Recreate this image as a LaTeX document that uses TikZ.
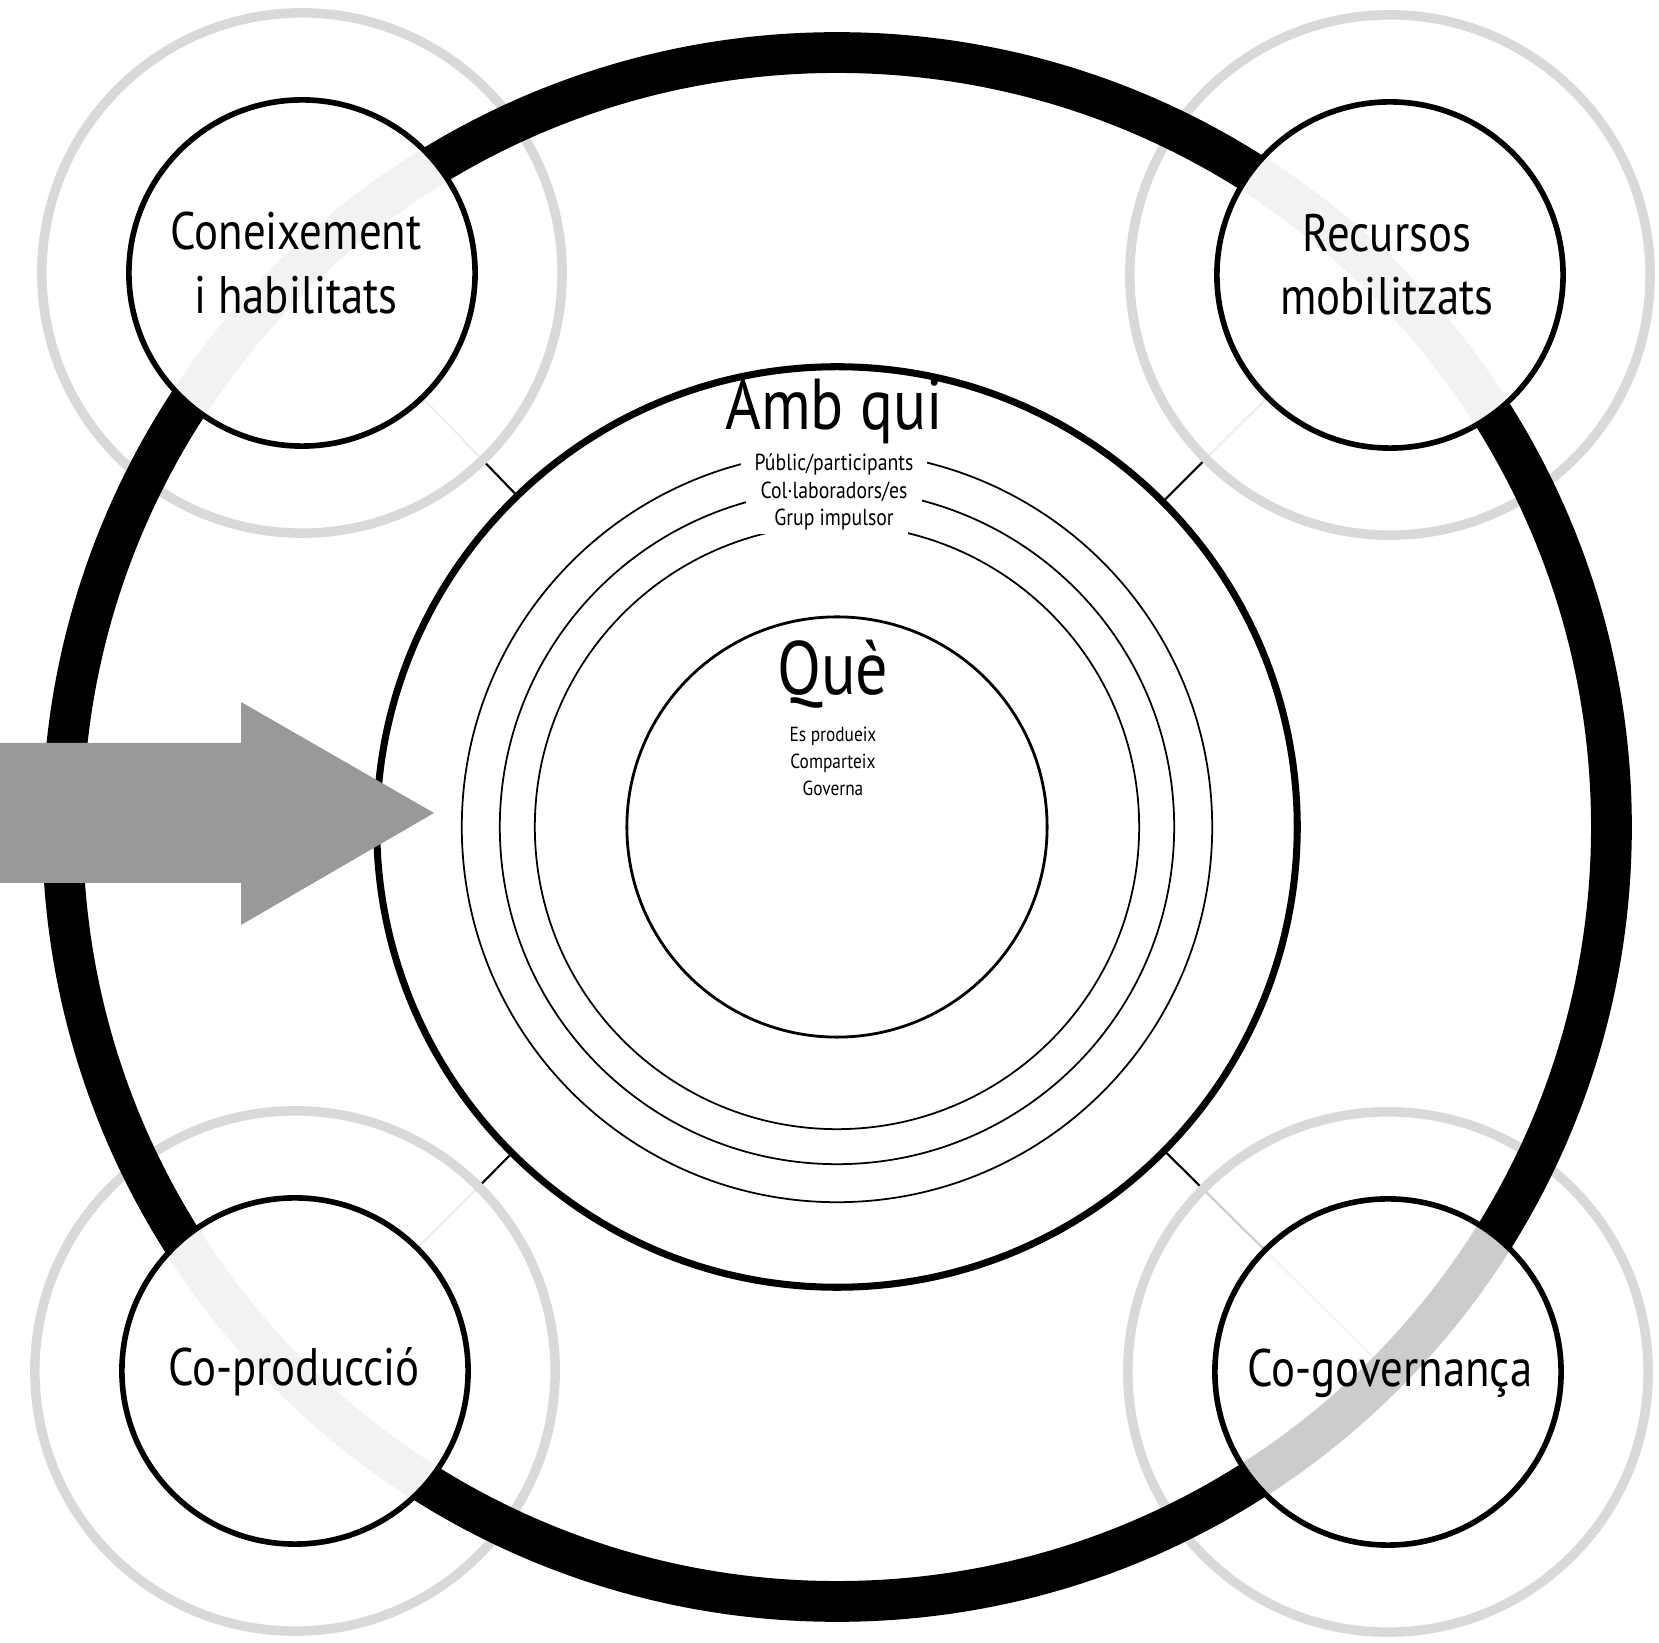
\documentclass[tikz,border=0pt]{standalone}
\usepackage{fontspec}
\setmainfont{PT Sans}[FakeStretch=0.85]
\definecolor{halogray}{HTML}{D9D9D9}
\definecolor{arrowgray}{HTML}{999999}

\begin{document}
\begin{tikzpicture}[x=0.01cm, y=-0.01cm,
	halo/.style={circle, draw=halogray, line width=2.7pt, fill=white, fill opacity=0.93, minimum size=5.2cm, inner sep=0pt},
	corner/.style={circle, draw=black, line width=1.6pt, fill=white, fill opacity=0.95, minimum size=3.46cm, inner sep=0pt},
	link/.style={line width=0.6pt},
	title/.style={font=\fontsize{15}{18}\selectfont, align=center},
	ringlabel/.style={fill=white, inner xsep=4pt, inner ysep=1pt, font=\fontsize{6.6}{7.5}\selectfont},
]

	% Define the canvas and the centre
	\useasboundingbox (0,0) rectangle (1659,1643);
	\coordinate (o) at (837,827);
	\coordinate (k1) at (302,273);
	\coordinate (k2) at (1390,275);
	\coordinate (k3) at (295,1371);
	\coordinate (k4) at (1388,1372);

	% Draw the Amb qui circle
	\node[circle, draw, line width=2pt, minimum size=9.2cm, inner sep=0pt] (ambqui) at (o) {};

	% Draw the links to the corners
	\draw[link] (ambqui) -- (k1);
	\draw[link] (ambqui) -- (k2);
	\draw[link] (ambqui) -- (k3);
	\draw[link] (ambqui) -- (k4);

	% Draw the halos
	\node[halo] (h1) at (k1) {};
	\node[halo] (h2) at (k2) {};
	\node[halo] (h3) at (k3) {};
	\node[halo, fill opacity=0.8] (h4) at (k4) {};

	% Draw the outer ring
	\draw[line width=11.6pt] (o) circle[radius=7.74cm];

	% Draw the corner circles and labels
	\node[corner] (c1) at (k1) {};
	\node[corner] (c2) at (k2) {};
	\node[corner] (c3) at (k3) {};
	\node[corner, fill opacity=0.8] (c4) at (k4) {};
	\node[title] (knowledge) at (296,263) {Coneixement\\i habilitats};
	\node[title] (resources) at (1387,265) {Recursos\\mobilitzats};
	\node[title, anchor=base] (coprod) at (294,1386) {Co-producció};
	\node[title, anchor=base] (cogov) at (1390,1387) {Co-governança};

	% Draw the thin rings
	\foreach \r in {3.75, 3.37, 3.02}
		\draw[line width=0.5pt] (o) circle[radius=\r cm];
	\node[font=\fontsize{20.5}{23}\selectfont, anchor=base] (ambquititle) at (834,430) {Amb qui};
	\node[ringlabel] (public) at (834,464) {Públic/participants};
	\node[ringlabel] (partners) at (834,492) {Col·laboradors/es};
	\node[ringlabel] (core) at (834,520) {Grup impulsor};

	% Draw the Què circle
	\node[circle, draw, line width=0.8pt, minimum size=4.2cm, inner sep=0pt] (que) at (o) {};
	\node[font=\fontsize{21.5}{24}\selectfont, anchor=base] (quetitle) at (833,695) {Què};
	\node[font=\fontsize{5.8}{7.7}\selectfont, align=center] (quelist) at (833,761) {Es produeix\\Comparteix\\Governa};

	% Draw the arrow
	\fill[arrowgray] (0,743) -- (241,743) -- (241,702) -- (434,813) -- (241,925) -- (241,883) -- (0,883) -- cycle;

\end{tikzpicture}
\end{document}
